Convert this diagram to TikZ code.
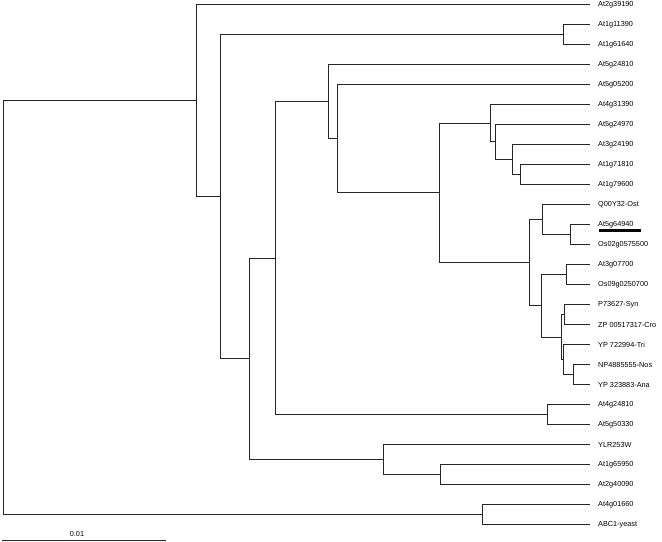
\documentclass[tikz,border=0pt]{standalone}
\usepackage{fontspec}
\setmainfont{Liberation Sans}
\newcommand{\tl}{\fontsize{7.3bp}{8bp}\selectfont}

\begin{document}
\begin{tikzpicture}[
  x=1bp, y=-1bp,
  branch/.style={draw=black!85, line width=1bp},
  leaf/.style={anchor=west, font=\tl, inner xsep=8bp, inner ysep=1bp},
  lbl/.style={font=\tl, inner sep=0.5bp},
  hilite/.style={draw=black, line width=2.6bp},
]
  \useasboundingbox (0,0) rectangle (662,542);

  % taxa, top to bottom, 20bp apart
  \foreach \n/\lab [count=\i from 0] in {
      at2g39190/At2g39190, at1g11390/At1g11390, at1g61640/At1g61640,
      at5g24810/At5g24810, at5g05200/At5g05200, at4g31390/At4g31390,
      at5g24970/At5g24970, at3g24190/At3g24190, at1g71810/At1g71810,
      at1g79600/At1g79600, ostq/Q00Y32-Ost, at5g64940/At5g64940,
      os02g/Os02g0575500, at3g07700/At3g07700, os09g/Os09g0250700,
      syn/P73627-Syn, cro/ZP 00517317-Cro, tri/YP 722994-Tri,
      nos/NP4885555-Nos, ana/YP 323883-Ana, at4g24810/At4g24810,
      at5g50330/At5g50330, ylr/YLR253W, at1g65950/At1g65950,
      at2g40090/At2g40090, at4g01660/At4g01660, abc1/ABC1-yeast}
    \node[leaf] (\n) at (590, 4.5+20*\i) {\lab};

  % internal nodes (x = depth, y = middle of the two children)
  \coordinate (root) at (3,307.5);
  \coordinate (nA) at (196,100.5);
  \coordinate (nB) at (220,196.6);
  \coordinate (nC) at (249,358.8);
  \coordinate (nD) at (275,258);
  \coordinate (nE) at (328,101.6);
  \coordinate (nF) at (337,138.7);
  \coordinate (nG) at (439,192.9);
  \coordinate (nH) at (490,123.3);
  \coordinate (nJ) at (495,142);
  \coordinate (nK) at (512,159.5);
  \coordinate (nL) at (520,174.5);
  \coordinate (nI) at (529,262.6);
  \coordinate (nM) at (542,219.5);
  \coordinate (nT) at (570,234.5);
  \coordinate (nN) at (541,305.8);
  \coordinate (nU) at (566,274.5);
  \coordinate (nO) at (561,337);
  \coordinate (nP) at (564,314.5);
  \coordinate (nQ) at (563,359.5);
  \coordinate (nR) at (573,374.5);
  \coordinate (nV) at (547,414.5);
  \coordinate (nS) at (383,459.5);
  \coordinate (nW) at (440,474.5);
  \coordinate (nX) at (563,34.5);
  \coordinate (nY) at (482,514.5);

  % elbow branches, parent to child
  \draw[branch] (root) |- (nA)  (root) |- (nY);
  \draw[branch] (nA) |- (at2g39190)  (nA) |- (nB);
  \draw[branch] (nB) |- (nX)  (nB) |- (nC);
  \draw[branch] (nX) |- (at1g11390)  (nX) |- (at1g61640);
  \draw[branch] (nC) |- (nD)  (nC) |- (nS);
  \draw[branch] (nD) |- (nE)  (nD) |- (nV);
  \draw[branch] (nE) |- (at5g24810)  (nE) |- (nF);
  \draw[branch] (nF) |- (at5g05200)  (nF) |- (nG);
  \draw[branch] (nG) |- (nH)  (nG) |- (nI);
  \draw[branch] (nH) |- (at4g31390)  (nH) |- (nJ);
  \draw[branch] (nJ) |- (at5g24970)  (nJ) |- (nK);
  \draw[branch] (nK) |- (at3g24190)  (nK) |- (nL);
  \draw[branch] (nL) |- (at1g71810)  (nL) |- (at1g79600);
  \draw[branch] (nI) |- (nM)  (nI) |- (nN);
  \draw[branch] (nM) |- (ostq)  (nM) |- (nT);
  \draw[branch] (nT) |- (at5g64940)  (nT) |- (os02g);
  \draw[branch] (nN) |- (nU)  (nN) |- (nO);
  \draw[branch] (nU) |- (at3g07700)  (nU) |- (os09g);
  \draw[branch] (nO) |- (nP)  (nO) |- (nQ);
  \draw[branch] (nP) |- (syn)  (nP) |- (cro);
  \draw[branch] (nQ) |- (tri)  (nQ) |- (nR);
  \draw[branch] (nR) |- (nos)  (nR) |- (ana);
  \draw[branch] (nV) |- (at4g24810)  (nV) |- (at5g50330);
  \draw[branch] (nS) |- (ylr)  (nS) |- (nW);
  \draw[branch] (nW) |- (at1g65950)  (nW) |- (at2g40090);
  \draw[branch] (nY) |- (at4g01660)  (nY) |- (abc1);

  % the gene of interest is marked with a bar
  \draw[hilite] ([xshift=9bp, yshift=-6bp]at5g64940.west) -- ++(42,0);

  % scale bar
  \coordinate (sb0) at (2,540);
  \coordinate (sb1) at (166,540);
  \draw[branch] (sb0) -- (sb1);
  \node[lbl] (sblbl) at (77,534) {0.01};
\end{tikzpicture}
\end{document}
